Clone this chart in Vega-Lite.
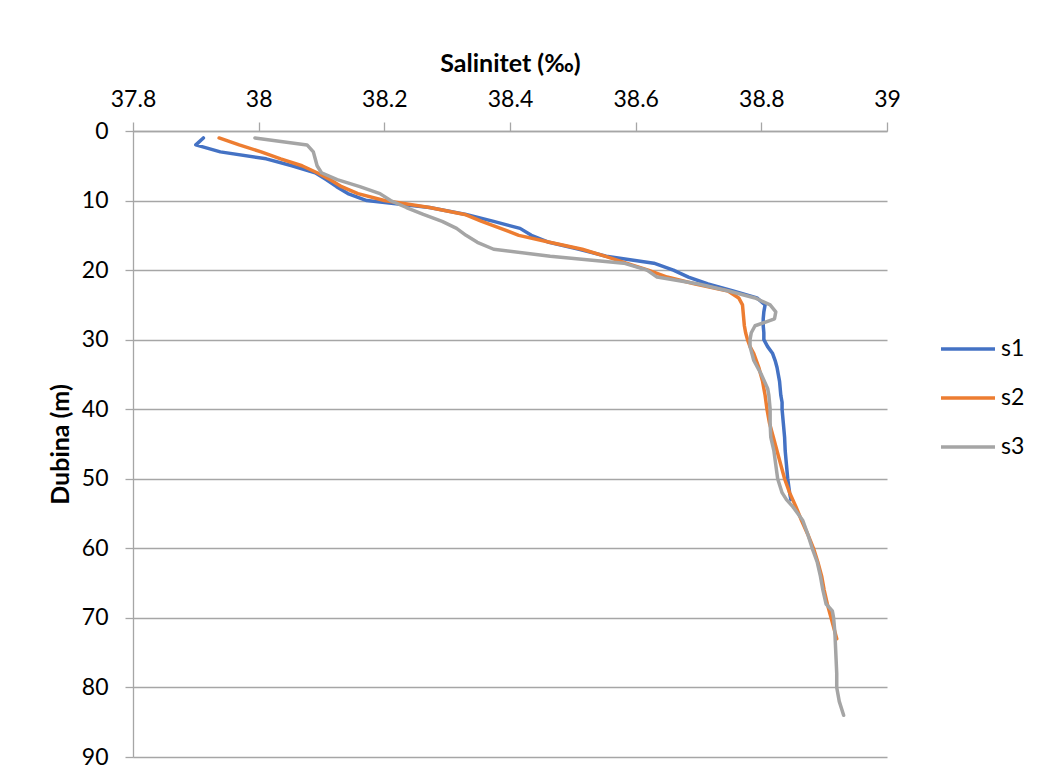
{
  "$schema": "https://vega.github.io/schema/vega-lite/v6.json",
  "autosize": {"type": "none"},
  "padding": {"left": 133, "top": 131, "right": 151, "bottom": 25},
  "width": 754,
  "height": 626,
  "background": "white",
  "config": {
    "font": "Lato",
    "view": {"stroke": null},
    "axis": {"labelFont": "Lato", "titleFont": "Lato", "labelColor": "#000000", "titleColor": "#000000"},
    "legend": {"labelFont": "Lato"}
  },
  "datasets": {
    "d": [
      {"s": "s1", "depth": 1, "sal": 37.912},
      {"s": "s1", "depth": 2, "sal": 37.900},
      {"s": "s1", "depth": 3, "sal": 37.939},
      {"s": "s1", "depth": 4, "sal": 38.012},
      {"s": "s1", "depth": 5, "sal": 38.053},
      {"s": "s1", "depth": 6, "sal": 38.090},
      {"s": "s1", "depth": 7, "sal": 38.108},
      {"s": "s1", "depth": 8, "sal": 38.124},
      {"s": "s1", "depth": 9, "sal": 38.142},
      {"s": "s1", "depth": 10, "sal": 38.172},
      {"s": "s1", "depth": 11, "sal": 38.272},
      {"s": "s1", "depth": 12, "sal": 38.330},
      {"s": "s1", "depth": 13, "sal": 38.374},
      {"s": "s1", "depth": 14, "sal": 38.416},
      {"s": "s1", "depth": 15, "sal": 38.434},
      {"s": "s1", "depth": 16, "sal": 38.462},
      {"s": "s1", "depth": 17, "sal": 38.510},
      {"s": "s1", "depth": 18, "sal": 38.553},
      {"s": "s1", "depth": 19, "sal": 38.629},
      {"s": "s1", "depth": 20, "sal": 38.660},
      {"s": "s1", "depth": 21, "sal": 38.684},
      {"s": "s1", "depth": 22, "sal": 38.715},
      {"s": "s1", "depth": 23, "sal": 38.755},
      {"s": "s1", "depth": 24, "sal": 38.793},
      {"s": "s1", "depth": 25, "sal": 38.806},
      {"s": "s1", "depth": 26, "sal": 38.804},
      {"s": "s1", "depth": 27, "sal": 38.803},
      {"s": "s1", "depth": 28, "sal": 38.803},
      {"s": "s1", "depth": 29, "sal": 38.804},
      {"s": "s1", "depth": 30, "sal": 38.804},
      {"s": "s1", "depth": 31, "sal": 38.810},
      {"s": "s1", "depth": 32, "sal": 38.818},
      {"s": "s1", "depth": 33, "sal": 38.822},
      {"s": "s1", "depth": 34, "sal": 38.825},
      {"s": "s1", "depth": 35, "sal": 38.827},
      {"s": "s1", "depth": 36, "sal": 38.829},
      {"s": "s1", "depth": 37, "sal": 38.830},
      {"s": "s1", "depth": 38, "sal": 38.831},
      {"s": "s1", "depth": 39, "sal": 38.833},
      {"s": "s1", "depth": 40, "sal": 38.833},
      {"s": "s1", "depth": 42, "sal": 38.835},
      {"s": "s1", "depth": 44, "sal": 38.837},
      {"s": "s1", "depth": 46, "sal": 38.838},
      {"s": "s1", "depth": 48, "sal": 38.840},
      {"s": "s1", "depth": 50, "sal": 38.842},
      {"s": "s1", "depth": 52, "sal": 38.845},
      {"s": "s1", "depth": 53, "sal": 38.847},
      {"s": "s2", "depth": 1, "sal": 37.937},
      {"s": "s2", "depth": 2, "sal": 37.969},
      {"s": "s2", "depth": 3, "sal": 38.004},
      {"s": "s2", "depth": 4, "sal": 38.035},
      {"s": "s2", "depth": 5, "sal": 38.069},
      {"s": "s2", "depth": 6, "sal": 38.093},
      {"s": "s2", "depth": 7, "sal": 38.114},
      {"s": "s2", "depth": 8, "sal": 38.132},
      {"s": "s2", "depth": 9, "sal": 38.158},
      {"s": "s2", "depth": 10, "sal": 38.200},
      {"s": "s2", "depth": 11, "sal": 38.272},
      {"s": "s2", "depth": 12, "sal": 38.328},
      {"s": "s2", "depth": 13, "sal": 38.355},
      {"s": "s2", "depth": 14, "sal": 38.385},
      {"s": "s2", "depth": 15, "sal": 38.414},
      {"s": "s2", "depth": 16, "sal": 38.463},
      {"s": "s2", "depth": 17, "sal": 38.515},
      {"s": "s2", "depth": 18, "sal": 38.551},
      {"s": "s2", "depth": 19, "sal": 38.585},
      {"s": "s2", "depth": 20, "sal": 38.620},
      {"s": "s2", "depth": 21, "sal": 38.650},
      {"s": "s2", "depth": 22, "sal": 38.695},
      {"s": "s2", "depth": 23, "sal": 38.747},
      {"s": "s2", "depth": 24, "sal": 38.764},
      {"s": "s2", "depth": 25, "sal": 38.770},
      {"s": "s2", "depth": 26, "sal": 38.771},
      {"s": "s2", "depth": 27, "sal": 38.772},
      {"s": "s2", "depth": 28, "sal": 38.773},
      {"s": "s2", "depth": 29, "sal": 38.775},
      {"s": "s2", "depth": 30, "sal": 38.778},
      {"s": "s2", "depth": 31, "sal": 38.782},
      {"s": "s2", "depth": 32, "sal": 38.788},
      {"s": "s2", "depth": 33, "sal": 38.792},
      {"s": "s2", "depth": 34, "sal": 38.796},
      {"s": "s2", "depth": 35, "sal": 38.799},
      {"s": "s2", "depth": 36, "sal": 38.802},
      {"s": "s2", "depth": 37, "sal": 38.804},
      {"s": "s2", "depth": 38, "sal": 38.806},
      {"s": "s2", "depth": 40, "sal": 38.809},
      {"s": "s2", "depth": 42, "sal": 38.813},
      {"s": "s2", "depth": 44, "sal": 38.819},
      {"s": "s2", "depth": 46, "sal": 38.825},
      {"s": "s2", "depth": 48, "sal": 38.831},
      {"s": "s2", "depth": 50, "sal": 38.837},
      {"s": "s2", "depth": 52, "sal": 38.845},
      {"s": "s2", "depth": 54, "sal": 38.855},
      {"s": "s2", "depth": 56, "sal": 38.864},
      {"s": "s2", "depth": 58, "sal": 38.874},
      {"s": "s2", "depth": 60, "sal": 38.883},
      {"s": "s2", "depth": 62, "sal": 38.890},
      {"s": "s2", "depth": 64, "sal": 38.896},
      {"s": "s2", "depth": 66, "sal": 38.900},
      {"s": "s2", "depth": 68, "sal": 38.905},
      {"s": "s2", "depth": 70, "sal": 38.911},
      {"s": "s2", "depth": 72, "sal": 38.917},
      {"s": "s2", "depth": 73, "sal": 38.920},
      {"s": "s3", "depth": 1, "sal": 37.994},
      {"s": "s3", "depth": 2, "sal": 38.077},
      {"s": "s3", "depth": 3, "sal": 38.087},
      {"s": "s3", "depth": 4, "sal": 38.090},
      {"s": "s3", "depth": 5, "sal": 38.093},
      {"s": "s3", "depth": 6, "sal": 38.100},
      {"s": "s3", "depth": 7, "sal": 38.125},
      {"s": "s3", "depth": 8, "sal": 38.161},
      {"s": "s3", "depth": 9, "sal": 38.193},
      {"s": "s3", "depth": 10, "sal": 38.210},
      {"s": "s3", "depth": 11, "sal": 38.235},
      {"s": "s3", "depth": 12, "sal": 38.262},
      {"s": "s3", "depth": 13, "sal": 38.292},
      {"s": "s3", "depth": 14, "sal": 38.315},
      {"s": "s3", "depth": 15, "sal": 38.330},
      {"s": "s3", "depth": 16, "sal": 38.348},
      {"s": "s3", "depth": 17, "sal": 38.374},
      {"s": "s3", "depth": 18, "sal": 38.464},
      {"s": "s3", "depth": 19, "sal": 38.581},
      {"s": "s3", "depth": 20, "sal": 38.618},
      {"s": "s3", "depth": 21, "sal": 38.634},
      {"s": "s3", "depth": 22, "sal": 38.700},
      {"s": "s3", "depth": 23, "sal": 38.748},
      {"s": "s3", "depth": 24, "sal": 38.790},
      {"s": "s3", "depth": 25, "sal": 38.814},
      {"s": "s3", "depth": 26, "sal": 38.823},
      {"s": "s3", "depth": 27, "sal": 38.821},
      {"s": "s3", "depth": 28, "sal": 38.790},
      {"s": "s3", "depth": 29, "sal": 38.784},
      {"s": "s3", "depth": 30, "sal": 38.782},
      {"s": "s3", "depth": 31, "sal": 38.782},
      {"s": "s3", "depth": 32, "sal": 38.785},
      {"s": "s3", "depth": 33, "sal": 38.788},
      {"s": "s3", "depth": 34, "sal": 38.794},
      {"s": "s3", "depth": 35, "sal": 38.800},
      {"s": "s3", "depth": 36, "sal": 38.805},
      {"s": "s3", "depth": 37, "sal": 38.810},
      {"s": "s3", "depth": 38, "sal": 38.812},
      {"s": "s3", "depth": 40, "sal": 38.814},
      {"s": "s3", "depth": 42, "sal": 38.814},
      {"s": "s3", "depth": 44, "sal": 38.815},
      {"s": "s3", "depth": 46, "sal": 38.820},
      {"s": "s3", "depth": 48, "sal": 38.823},
      {"s": "s3", "depth": 50, "sal": 38.826},
      {"s": "s3", "depth": 52, "sal": 38.833},
      {"s": "s3", "depth": 53, "sal": 38.840},
      {"s": "s3", "depth": 54, "sal": 38.850},
      {"s": "s3", "depth": 55, "sal": 38.858},
      {"s": "s3", "depth": 56, "sal": 38.866},
      {"s": "s3", "depth": 58, "sal": 38.874},
      {"s": "s3", "depth": 60, "sal": 38.881},
      {"s": "s3", "depth": 62, "sal": 38.889},
      {"s": "s3", "depth": 64, "sal": 38.894},
      {"s": "s3", "depth": 66, "sal": 38.898},
      {"s": "s3", "depth": 68, "sal": 38.903},
      {"s": "s3", "depth": 69, "sal": 38.913},
      {"s": "s3", "depth": 70, "sal": 38.915},
      {"s": "s3", "depth": 72, "sal": 38.917},
      {"s": "s3", "depth": 74, "sal": 38.918},
      {"s": "s3", "depth": 76, "sal": 38.919},
      {"s": "s3", "depth": 78, "sal": 38.920},
      {"s": "s3", "depth": 80, "sal": 38.920},
      {"s": "s3", "depth": 82, "sal": 38.924},
      {"s": "s3", "depth": 84, "sal": 38.931}
    ]
  },
  "data": {"name": "d"},
  "mark": {"type": "line", "strokeWidth": 3.5, "strokeJoin": "round", "strokeCap": "round", "interpolate": "linear"},
  "encoding": {
    "x": {
      "field": "sal", "type": "quantitative",
      "scale": {"domain": [37.8, 39], "nice": false, "zero": false},
      "axis": {
        "orient": "top", "title": "Salinitet (‰)", "values": [37.8, 38, 38.2, 38.4, 38.6, 38.8, 39],
        "format": ".1~f", "grid": false, "domain": true, "domainColor": "#a6a6a6", "domainWidth": 1.3,
        "ticks": true, "tickSize": 9, "tickColor": "#a6a6a6", "tickWidth": 1.3,
        "labelFontSize": 23, "labelPadding": 11, "labelFlush": false,
        "titleFontSize": 25, "titleFontWeight": "bold", "titlePadding": 12
      }
    },
    "y": {
      "field": "depth", "type": "quantitative",
      "scale": {"domain": [0, 90], "nice": false, "reverse": true},
      "axis": {
        "title": "Dubina (m)", "values": [0, 10, 20, 30, 40, 50, 60, 70, 80, 90],
        "grid": true, "gridColor": "#a6a6a6", "gridWidth": 1.3,
        "domain": true, "domainColor": "#a6a6a6", "domainWidth": 1.3,
        "ticks": true, "tickSize": 8, "tickColor": "#a6a6a6", "tickWidth": 1.3,
        "labelFontSize": 23, "labelPadding": 17, "labelFlush": false,
        "titleFontSize": 25, "titleFontWeight": "bold", "titlePadding": 8
      }
    },
    "color": {
      "field": "s", "type": "nominal",
      "scale": {"domain": ["s1", "s2", "s3"], "range": ["#4472C4", "#ED7D31", "#A5A5A5"]},
      "legend": {
        "title": null, "orient": "none", "legendX": 806, "legendY": 189,
        "symbolType": "stroke", "symbolSize": 2916, "symbolStrokeWidth": 3.5,
        "labelFontSize": 23, "labelOffset": 4, "rowPadding": 8, "padding": 0
      }
    },
    "order": {"field": "depth", "type": "quantitative"}
  }
}
